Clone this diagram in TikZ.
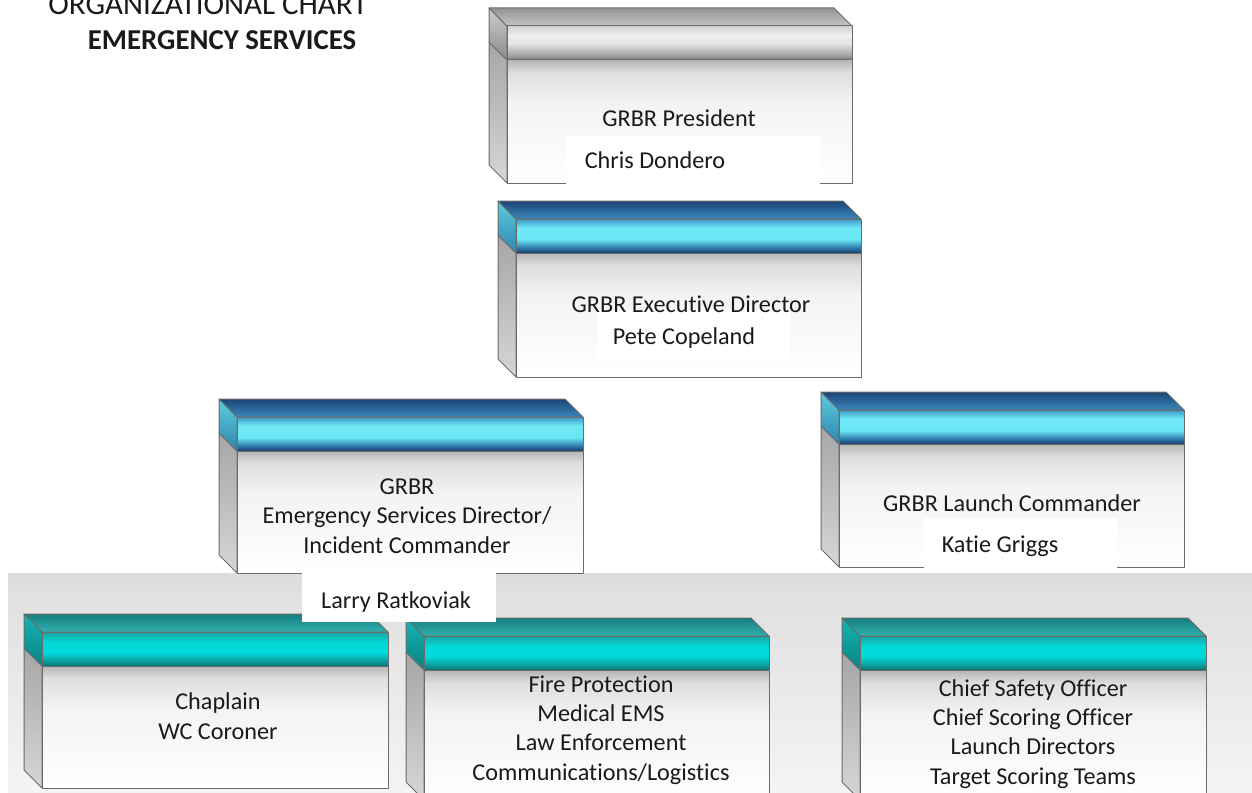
\documentclass[tikz,border=0pt]{standalone}
\usepackage{fontspec}
\setmainfont{Carlito}[RawFeature={-liga;-clig;-calt;-dlig}]
\definecolor{txt}{HTML}{1A1A1A}
\definecolor{edge}{HTML}{6B6B6B}
\definecolor{fr1}{HTML}{F3F3F3}
\definecolor{fr2}{HTML}{DEDEDE}
\definecolor{fr3}{HTML}{B5B5B5}
\definecolor{bb1}{HTML}{1A3F6E}
\definecolor{bb2}{HTML}{2D74A8}
\definecolor{bb3}{HTML}{6AE6F4}
\definecolor{bb4}{HTML}{70E9F6}
\definecolor{bb5}{HTML}{3C98C8}
\definecolor{tb1}{HTML}{087474}
\definecolor{tb2}{HTML}{0EA0A0}
\definecolor{tb3}{HTML}{00DADA}
\definecolor{tb4}{HTML}{04D8D8}
\definecolor{tb5}{HTML}{1AA4A4}
\definecolor{gb1}{HTML}{7A7A7A}
\definecolor{gb2}{HTML}{A8A8A8}
\definecolor{gb3}{HTML}{E6E6E6}
\definecolor{gb4}{HTML}{EEEEEE}
\definecolor{gb5}{HTML}{CFCFCF}
\pgfdeclareverticalshading{frontsh}{100bp}{color(0bp)=(white); color(25bp)=(white); color(58bp)=(fr1); color(70bp)=(fr2); color(75bp)=(fr3); color(100bp)=(fr3)}
\pgfdeclareverticalshading{bluesh}{100bp}{color(0bp)=(bb1); color(25bp)=(bb1); color(32bp)=(bb2); color(45bp)=(bb3); color(62bp)=(bb4); color(75bp)=(bb5); color(100bp)=(bb5)}
\pgfdeclareverticalshading{tealsh}{100bp}{color(0bp)=(tb1); color(25bp)=(tb1); color(33bp)=(tb2); color(45bp)=(tb3); color(60bp)=(tb4); color(75bp)=(tb5); color(100bp)=(tb5)}
\pgfdeclareverticalshading{graysh}{100bp}{color(0bp)=(gb1); color(25bp)=(gb1); color(33bp)=(gb2); color(50bp)=(gb3); color(62bp)=(gb4); color(75bp)=(gb5); color(100bp)=(gb5)}
\pgfdeclareverticalshading{bandsh}{100bp}{color(0bp)=(white!96!black); color(25bp)=(white!96!black); color(70bp)=(white!88!black); color(75bp)=(white!86!black); color(100bp)=(white!86!black)}
\tikzset{
  outline/.style={draw=edge, line width=1pt, line join=round},
  leftside/.style={outline, top color=black!35, bottom color=black!16},
  frontface/.style={outline, shading=frontsh},
  bluecl/.style={outline, top color={rgb,255:red,92;green,205;blue,224}, bottom color={rgb,255:red,47;green,134;blue,173}},
  bluetop/.style={outline, top color={rgb,255:red,28;green,69;blue,118}, bottom color={rgb,255:red,58;green,136;blue,187}},
  blueband/.style={outline, shading=bluesh},
  tealcl/.style={outline, top color={rgb,255:red,20;green,180;blue,180}, bottom color={rgb,255:red,10;green,132;blue,132}},
  tealtop/.style={outline, top color={rgb,255:red,22;green,127;blue,127}, bottom color={rgb,255:red,48;green,176;blue,176}},
  tealband/.style={outline, shading=tealsh},
  graycl/.style={outline, top color=black!20, bottom color=black!45},
  graytop/.style={outline, top color=black!42, bottom color=black!23},
  grayband/.style={outline, shading=graysh},
  label/.style={fill=white, draw=none},
  boxtext/.style={text=txt, font=\fontsize{24.2}{29.3}\selectfont, align=center, anchor=base, inner sep=0pt},
}
\newcommand\cubebox[5]{%
  \path[leftside] (#1,{#2+34}) -- ({#1-18},{#2+16}) -- ({#1-18},{#4-18}) -- (#1,#4) -- cycle;
  \path[#5cl] (#1,#2) -- ({#1-18},{#2-18}) -- ({#1-18},{#2+16}) -- (#1,{#2+34}) -- cycle;
  \path[#5top] ({#1-18},{#2-18}) -- ({#3-18},{#2-18}) -- (#3,#2) -- (#1,#2) -- cycle;
  \path[frontface] (#1,{#2+34}) rectangle (#3,#4);
  \path[#5band] (#1,#2) rectangle (#3,{#2+34});
}
\begin{document}
\begin{tikzpicture}[x=1pt, y=-1pt]
\useasboundingbox (0,0) rectangle (1252,792);
\clip (0,0) rectangle (1252,792);
% background band
\path[shading=bandsh] (8,573) rectangle (1252,800);
% upper boxes
\cubebox{507}{26}{852}{183}{gray}
\cubebox{516}{219}{861}{377}{blue}
\cubebox{237}{417}{583}{573}{blue}
\cubebox{839}{410}{1184}{567}{blue}
% lower boxes
\cubebox{42}{632}{388}{788}{teal}
\cubebox{424}{636}{769}{800}{teal}
\cubebox{860}{636}{1206}{800}{teal}
% white name labels
\path[label] (566,136) rectangle (820,186);
\path[label] (597,310) rectangle (790,363);
\path[label] (302,573) rectangle (496,622);
\path[label] (924,518) rectangle (1117,573);
% title
\node[boxtext, font=\fontsize{31}{36}\selectfont] (t1) at (208,15) {ORGANIZATIONAL CHART};
\node[boxtext, font=\fontsize{28.8}{34}\selectfont\bfseries] (t2) at (222,50) {EMERGENCY SERVICES};
% texts
\node[boxtext] (pres) at (679,126) {GRBR President};
\node[boxtext] (presn) at (655,168) {Chris Dondero};
\node[boxtext] (exec) at (691,312) {GRBR Executive Director};
\node[boxtext] (execn) at (684,344) {Pete Copeland};
\node[boxtext] (esd) at (407,553) {GRBR\\Emergency Services Director/\\Incident Commander};
\node[boxtext] (esdn) at (396,608) {Larry Ratkoviak};
\node[boxtext] (lc) at (1012,511) {GRBR Launch Commander};
\node[boxtext] (lcn) at (1000,552) {Katie Griggs};
\node[boxtext] (chap) at (218,739) {Chaplain\\WC Coroner};
\node[boxtext] (fire) at (601,780) {Fire Protection\\Medical EMS\\Law Enforcement\\Communications/Logistics};
\node[boxtext] (safety) at (1033,784) {Chief Safety Officer\\Chief Scoring Officer\\Launch Directors\\Target Scoring Teams};
\end{tikzpicture}
\end{document}
